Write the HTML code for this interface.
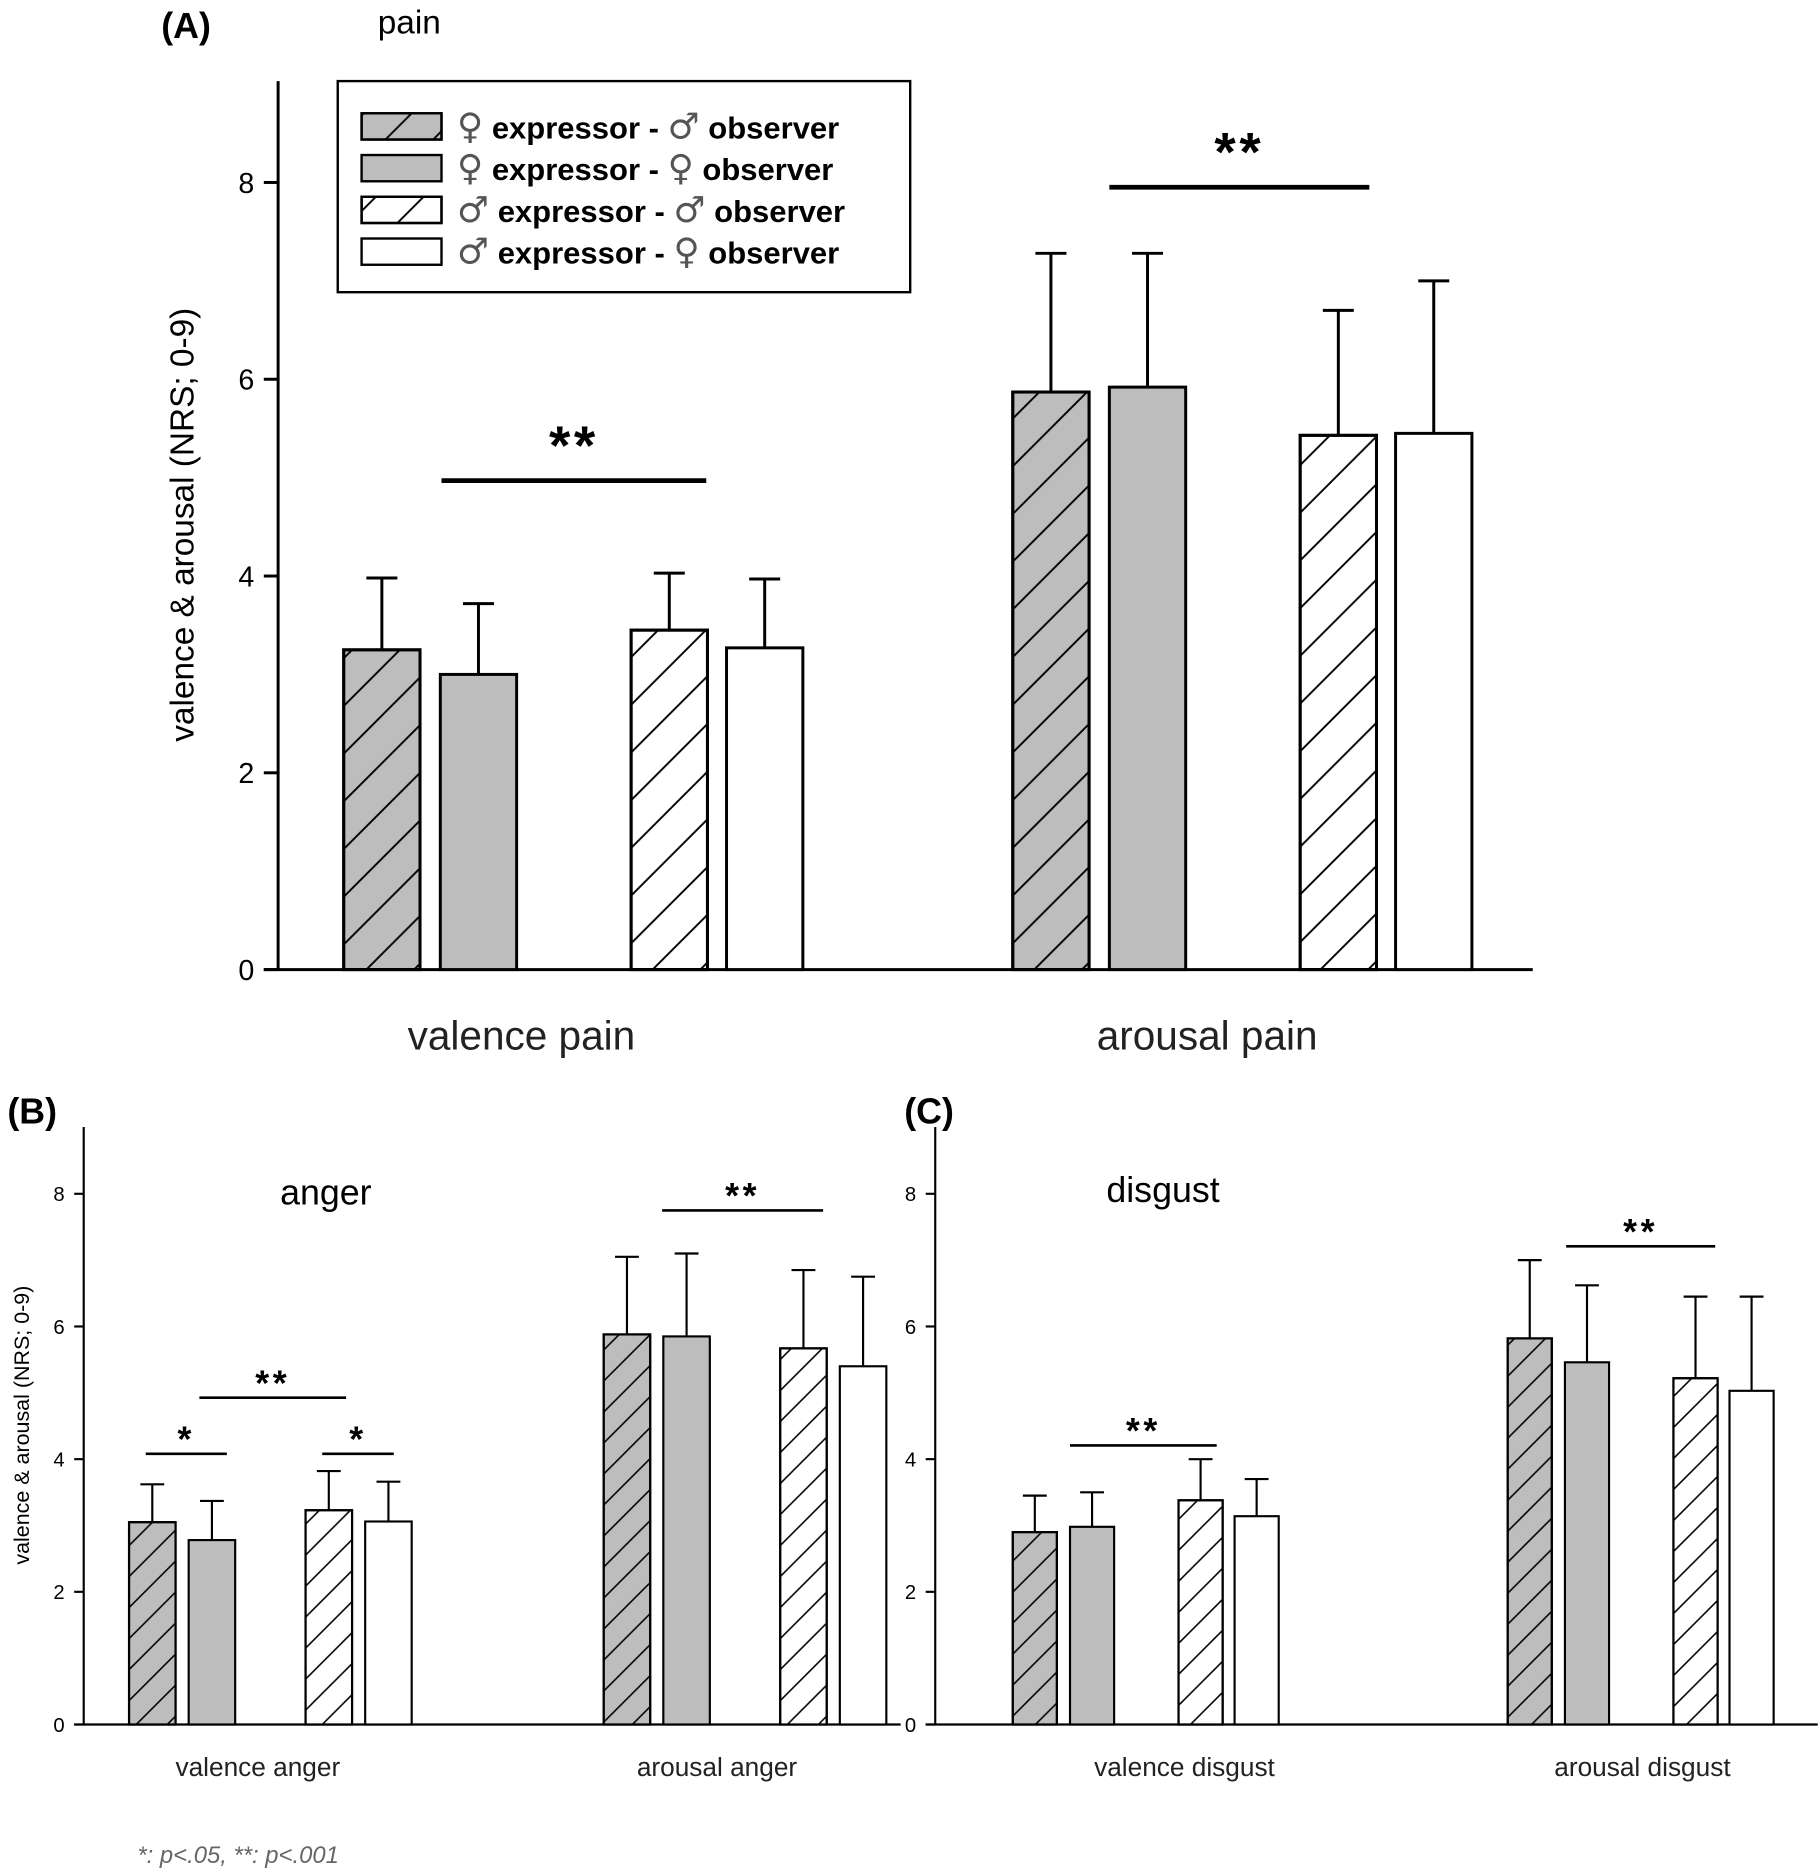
<!DOCTYPE html>
<html><head><meta charset="utf-8"><style>
html,body{margin:0;padding:0;background:#fff;}
svg{display:block;font-family:"Liberation Sans","DejaVu Sans",sans-serif;}
</style></head><body>
<svg id="fig" width="1818" height="1870" viewBox="0 0 1524 1568" xmlns="http://www.w3.org/2000/svg">
<defs>
<pattern id="hatchA" patternUnits="userSpaceOnUse" width="40" height="40">
<path d="M-10,50 L50,-10 M-30,30 L30,-30 M10,70 L70,10" stroke="#000" stroke-width="1.6"/>
</pattern>
<pattern id="hatchB" patternUnits="userSpaceOnUse" width="26" height="26">
<path d="M-7,33 L33,-7 M-20,20 L20,-20 M6,46 L46,6" stroke="#000" stroke-width="1.3"/>
</pattern>
</defs>
<g id="root"></g>
</svg>
<script>
// Panel A data (pain)
const catsA = ["valence pain","arousal pain"];
const meansA = [[3.25,3.0,3.45,3.27],[5.87,5.92,5.43,5.45]];
const topsA = [[3.98,3.72,4.03,3.97],[7.28,7.28,6.70,7.00]];
// Panel B data (anger)
const catsB = ["valence anger","arousal anger"];
const meansB = [[3.05,2.78,3.23,3.06],[5.88,5.85,5.67,5.40]];
const topsB = [[3.62,3.37,3.82,3.66],[7.05,7.10,6.85,6.75]];
// Panel C data (disgust)
const catsC = ["valence disgust","arousal disgust"];
const meansC = [[2.90,2.98,3.38,3.14],[5.82,5.46,5.22,5.03]];
const topsC = [[3.45,3.50,4.00,3.70],[7.00,6.62,6.45,6.45]];
const ticks = [0,2,4,6,8];

const NS="http://www.w3.org/2000/svg";
const root=document.getElementById('root');
function mk(tag,attrs,parent){const e=document.createElementNS(NS,tag);for(const k in attrs)e.setAttribute(k,attrs[k]);(parent||root).appendChild(e);return e;}
function txt(s,attrs,parent){const e=mk('text',attrs,parent);e.textContent=s;return e;}

function panel(cfg){
  const g=mk('g',{});
  
  
  const y=v=>cfg.y0-(cfg.y0-cfg.y8)/8*v;
  const ax=mk('line',{x1:cfg.ax,y1:cfg.axTop,x2:cfg.ax,y2:cfg.y0,stroke:'#000','stroke-width':cfg.lw},g);
  
  
  const xa=mk('line',{x1:cfg.ax-cfg.tickLen,y1:cfg.y0,x2:cfg.xEnd,y2:cfg.y0,stroke:'#000','stroke-width':cfg.lw},g);
  
  
  ticks.forEach(t=>{
    mk('line',{x1:cfg.ax-cfg.tickLen,y1:y(t),x2:cfg.ax,y2:y(t),stroke:'#000','stroke-width':cfg.lw},g);
    const tl=txt(String(t),{x:cfg.ax-cfg.tickLen-8,y:y(t)+cfg.tickFs*0.36,'text-anchor':'end','font-size':cfg.tickFs},g);
    
    
  });
  const fills=['#bdbdbd','#bdbdbd','#fff','#fff'];
  const hatch=[true,false,true,false];
  cfg.means.forEach((grp,gi)=>{
    grp.forEach((m,bi)=>{
      const x=cfg.groupX[gi]+cfg.offs[bi];
      const top=y(cfg.tops[gi][bi]);
      const el=mk('line',{x1:x+cfg.bw/2,y1:y(m),x2:x+cfg.bw/2,y2:top,stroke:'#000','stroke-width':cfg.lw},g);
      
      
      mk('line',{x1:x+cfg.bw/2-cfg.cap,y1:top,x2:x+cfg.bw/2+cfg.cap,y2:top,stroke:'#000','stroke-width':cfg.lw},g);
      const r=mk('rect',{x:x,y:y(m),width:cfg.bw,height:cfg.y0-y(m),fill:fills[bi],stroke:'#000','stroke-width':cfg.lw},g);
      
      
      if(hatch[bi]) mk('rect',{x:x,y:y(m),width:cfg.bw,height:cfg.y0-y(m),fill:'url(#'+cfg.pat+')',stroke:'#000','stroke-width':cfg.lw},g);
    });
    const cl=txt(cfg.cats[gi],{x:cfg.catX[gi],y:cfg.catY,'text-anchor':'middle','font-size':cfg.catFs,fill:'#222'},g);
    
    
  });
  cfg.sigs.forEach(s=>{
    const l=mk('line',{x1:s[0],y1:s[2],x2:s[1],y2:s[2],stroke:'#000','stroke-width':cfg.sigLw},g);
    
    
    const st=txt(s[3],{x:(s[0]+s[1])/2,y:s[2]-cfg.sigOff,'text-anchor':'middle','font-size':cfg.sigFs,'font-weight':'bold','letter-spacing':3},g);
    
    
  });
  const yl=txt('valence & arousal (NRS; 0-9)',{x:0,y:0,'text-anchor':'middle','font-size':cfg.ylFs,transform:`translate(${cfg.ylX},${cfg.ylY}) rotate(-90)`},g);
  
  
  const pl=txt(cfg.letter,{x:cfg.letterX,y:cfg.letterY,'font-size':30,'font-weight':'bold'},g);
  
  
  const tt=txt(cfg.title,{x:cfg.titleX,y:cfg.titleY,'text-anchor':'middle','font-size':cfg.titleFs},g);
  
  
}

panel({name:'panel-a-pain',means:meansA,tops:topsA,cats:catsA,pat:'hatchA',ax:233,axTop:68,y0:813,y8:153,xEnd:1285,tickLen:12,tickFs:24,lw:2.5,
 groupX:[288,849],offs:[0,81,241,321],bw:64,cap:13,catX:[437,1012],catY:880,catFs:34,
 sigs:[[370,592,403,'**'],[930,1148,157,'**']],sigLw:4,sigOff:14,sigFs:46,ylX:162,ylY:440,ylFs:28,
 letter:'(A)',letterX:135,letterY:32,title:'pain',titleX:343,titleY:28,titleFs:28});
panel({name:'panel-b-anger',means:meansB,tops:topsB,cats:catsB,pat:'hatchB',ax:70,axTop:945,y0:1446,y8:1001,xEnd:755,tickLen:8,tickFs:17,lw:1.8,
 groupX:[108,506],offs:[0,50,148,198],bw:39,cap:10,catX:[216,601],catY:1489,catFs:22,
 sigs:[[122,190,1219,'*'],[270,330,1219,'*'],[167,290,1172,'**'],[555,690,1015,'**']],sigLw:2.2,sigOff:2,sigFs:30,ylX:24,ylY:1195,ylFs:18,
 letter:'(B)',letterX:6,letterY:942,title:'anger',titleX:273,titleY:1010,titleFs:30});
panel({name:'panel-c-disgust',means:meansC,tops:topsC,cats:catsC,pat:'hatchB',ax:784,axTop:945,y0:1446,y8:1001,xEnd:1524,tickLen:8,tickFs:17,lw:1.8,
 groupX:[849,1264],offs:[0,48,139,186],bw:37,cap:10,catX:[993,1377],catY:1489,catFs:22,
 sigs:[[897,1020,1212,'**'],[1313,1438,1045,'**']],sigLw:2.2,sigOff:2,sigFs:30,ylX:-100,ylY:-100,ylFs:1,
 letter:'(C)',letterX:758,letterY:942,title:'disgust',titleX:975,titleY:1008,titleFs:30});

// Legend
const lg=mk('g',{});


mk('rect',{x:283,y:68,width:480,height:177,fill:'#fff',stroke:'#000','stroke-width':2},lg);
const lfills=['#bdbdbd','#bdbdbd','#fff','#fff'],lh=[true,false,true,false];
const lexp=['♀','♀','♂','♂'];
const lobs=['♂','♀','♂','♀'];
lexp.forEach((s,i)=>{
  const yy=95+i*35;
  const e=mk('g',{},lg);
  
  
  mk('rect',{x:303,y:yy,width:67,height:22,fill:lfills[i],stroke:'#000','stroke-width':2},e);
  if(lh[i]) mk('rect',{x:303,y:yy,width:67,height:22,fill:'url(#hatchA)',stroke:'#000','stroke-width':2},e);
  const t=mk('text',{x:383,y:yy+21,'font-size':26,'font-weight':'bold'},e);
  const a=mk('tspan',{'font-size':30,'font-weight':'normal','font-family':'DejaVu Sans',fill:'#555'},t);a.textContent=s;
  const b=mk('tspan',{},t);b.textContent=' expressor - ';
  const c=mk('tspan',{'font-size':30,'font-weight':'normal','font-family':'DejaVu Sans',fill:'#555'},t);c.textContent=lobs[i];
  const d=mk('tspan',{},t);d.textContent=' observer';
});
const fn=txt('*: p<.05,  **: p<.001',{x:115,y:1562,'font-size':20,'font-style':'italic',fill:'#666'});


</script>
</body></html>
